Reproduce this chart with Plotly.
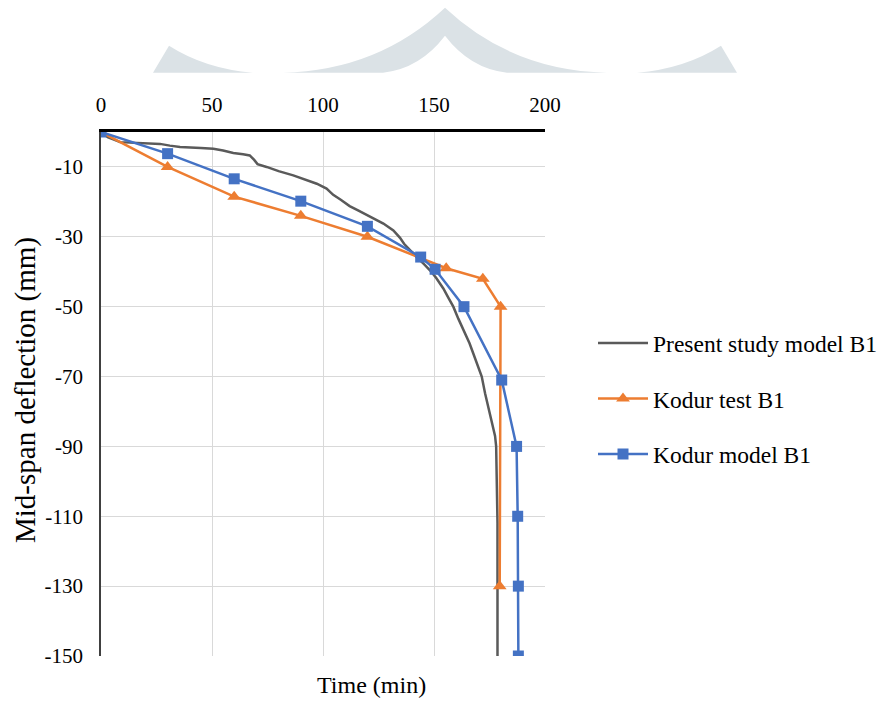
import plotly.graph_objects as go

# Mid-span deflection vs. fire exposure time, beam B1
present_t = [0, 3, 8.6, 20, 26.6, 31, 35.6, 45, 50.6, 55, 59.6, 64, 67, 69, 70.5, 74.6, 80, 86.6,
             92, 97.2, 101.6, 104.6, 108, 112, 116, 119.7, 123, 127.2, 131.7, 134.7, 136.5, 139,
             142.2, 145.5, 148.5, 151, 154.2, 156.5, 158.7, 161, 164, 166, 167.7, 169.5, 171.5,
             173, 175.2, 176.7, 177.5, 178, 178.3, 178.6, 178.6]
present_d = [0, -1.5, -2.9, -3.3, -3.4, -3.9, -4.3, -4.6, -4.8, -5.3, -6.0, -6.4, -6.7, -8, -9.2, -10,
             -11.2, -12.4, -13.6, -14.8, -16.2, -18, -19.4, -21.2, -22.5, -23.8, -24.8, -26.2, -28.2,
             -30.3, -32, -33.8, -35.8, -37.8, -39.8, -41.8, -44.8, -47.5, -50, -53.5, -57.7, -60.5,
             -63.4, -66.5, -70, -74.8, -80.5, -84.3, -87, -90, -99.6, -112, -150]

test_t = [0, 30, 60, 90, 120, 155.5, 172, 180, 179.6]
test_d = [0, -10, -18.5, -24, -30, -39, -42, -50, -130]

model_t = [0, 30, 60, 90, 120, 144, 150.5, 163.5, 180.5, 187.2, 187.7, 188, 188]
model_d = [0, -6.2, -13.4, -19.8, -27, -35.8, -39.3, -50, -71, -90, -110, -130, -150]

x_ticks = [0, 50, 100, 150, 200]
y_ticks = [-10, -30, -50, -70, -90, -110, -130, -150]
y_tick_text = ["-10", "-30", "-50", "-70", "-90", "-110", "-130", "-150"]

FONT = "Liberation Serif"

fig = go.Figure()
fig.add_trace(go.Scatter(x=present_t, y=present_d, mode="lines", name="Present study model B1",
                         line=dict(color="#5a5a5a", width=2.5), legendgroup="a"))
fig.add_trace(go.Scatter(x=test_t, y=test_d, mode="lines+markers", name="Kodur test B1",
                         line=dict(color="#ed7d31", width=2.5),
                         marker=dict(symbol="triangle-up", size=12, color="#ed7d31"),
                         legendgroup="b"))
fig.add_trace(go.Scatter(x=model_t, y=model_d, mode="lines+markers", name="Kodur model B1",
                         line=dict(color="#4472c4", width=2.5),
                         marker=dict(symbol="square", size=11, color="#4472c4"),
                         legendgroup="c"))

# plot area geometry in pixels (884 x 709 page)
L, R, T, B = 101, 545, 131.5, 656.5
W, H = 884, 709


def px(x):
    return (x - L) / (R - L)


def py(y):
    return (B - y) / (B - T)


# decorative arch emblem at the top of the page
def P(x, y):
    return f"{px(x):.4f},{py(y):.4f}"


base = 72
left_horn = f"M{P(153, base)} L{P(169, 45)} Q{P(205, 68)} {P(253, base)} Z"
right_horn = f"M{P(737, base)} L{P(721, 45)} Q{P(685, 68)} {P(637, base)} Z"
arch = (f"M{P(283, base)} Q{P(378, 70)} {P(445, 7)} Q{P(512, 70)} {P(607, base)} "
        f"L{P(507, base)} Q{P(470, 68)} {P(445, 35)} Q{P(420, 68)} {P(383, base)} Z")
shapes = []
for path in (left_horn, right_horn, arch):
    shapes.append(dict(type="path", path=path, xref="paper", yref="paper",
                       fillcolor="#dbe2e6", line=dict(width=0), layer="below"))

fig.update_layout(
    width=W, height=H,
    margin=dict(l=L, r=W - R, t=T, b=H - B, autoexpand=False),
    paper_bgcolor="white", plot_bgcolor="white",
    font=dict(family=FONT, color="black"),
    shapes=shapes,
    showlegend=True,
    legend=dict(x=px(593), y=py(321), xanchor="left", yanchor="top",
                font=dict(family=FONT, size=23.5, color="black"),
                bgcolor="rgba(0,0,0,0)", traceorder="grouped", tracegroupgap=22,
                itemwidth=50),
    xaxis=dict(range=[0, 200], side="top", tickvals=x_ticks,
               tickfont=dict(family=FONT, size=21, color="black"),
               showgrid=True, gridcolor="#d9d9d9", gridwidth=1,
               showline=True, linecolor="black", linewidth=2.5,
               zeroline=False, ticks="", ticklabelstandoff=9),
    yaxis=dict(range=[-150, 0], tickvals=y_ticks, ticktext=y_tick_text,
               tickfont=dict(family=FONT, size=21, color="black"),
               showgrid=True, gridcolor="#d9d9d9", gridwidth=1,
               showline=True, linecolor="#404040", linewidth=1.5,
               zeroline=False, ticks="", ticklabelstandoff=12),
    annotations=[
        dict(text="Mid-span deflection (mm)", xref="paper", yref="paper",
             x=px(25), y=py(390), xanchor="center", yanchor="middle",
             textangle=-90, showarrow=False,
             font=dict(family=FONT, size=29, color="black")),
        dict(text="Time (min)", xref="paper", yref="paper",
             x=px(371), y=py(686), xanchor="center", yanchor="middle", showarrow=False,
             font=dict(family=FONT, size=24, color="black")),
    ],
)

fig.write_html("out.html")
